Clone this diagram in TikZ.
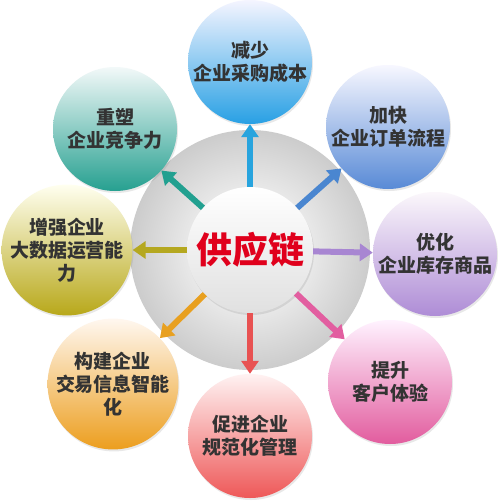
\documentclass[tikz,border=0pt]{standalone}
\usepackage{fontspec}
\newfontfamily\cjk{Noto Sans CJK SC}
\usetikzlibrary{arrows.meta,shadows}
\definecolor{txt}{HTML}{333333}
\definecolor{hubred}{HTML}{E0001C}
\pgfdeclareradialshading{ringshade}{\pgfpoint{0bp}{0bp}}{%
  color(0bp)=(white!94!black);
  color(12bp)=(white!92!black);
  color(25bp)=(white!80!black);
  color(50bp)=(white!75!black)}
\tikzset{
  bubble/.style={circle, minimum size=124pt, inner sep=0pt, align=center,
    font=\cjk\bfseries\fontsize{19}{23}\selectfont, text=txt,
    drop shadow={opacity=0.18, shadow xshift=1pt, shadow yshift=-2pt}},
  arr/.style={line width=6pt, -{Triangle[width=17pt,length=13pt]}},
}
\begin{document}
\begin{tikzpicture}[x=1pt,y=-1pt]
\useasboundingbox (0,0) rectangle (500,501);
\fill[white] (0,0) rectangle (500,501);
% big ring
\shade[shading=ringshade] (250,250) circle (120);
% outer bubbles
\node[bubble, top color=blue!4!white, bottom color={rgb,255:red,40;green,160;blue,228}] (n1) at (250,62) {减少\\企业采购成本};
\node[bubble, top color=blue!3!white, bottom color={rgb,255:red,88;green,138;blue,214}] (n2) at (388,127) {加快\\企业订单流程};
\node[bubble, top color=violet!3!white, bottom color={rgb,255:red,174;green,140;blue,214}] (n3) at (435,254) {优化\\企业库存商品};
\node[bubble, top color=magenta!5!white, bottom color={rgb,255:red,226;green,92;blue,158}] (n4) at (390,382) {提升\\客户体验};
\node[bubble, top color=red!5!white, bottom color={rgb,255:red,238;green,88;blue,88}] (n5) at (250,436) {促进企业\\规范化管理};
\node[bubble, top color=orange!6!white, bottom color={rgb,255:red,236;green,158;blue,30}] (n6) at (113,384) {构建企业\\交易信息智能\\化};
\node[bubble, top color=yellow!6!white, bottom color={rgb,255:red,184;green,168;blue,26}] (n7) at (67,250) {增强企业\\大数据运营能\\力};
\node[bubble, top color=teal!5!white, bottom color={rgb,255:red,38;green,160;blue,144}] (n8) at (115,129) {重塑\\企业竞争力};
% hub
\node[circle, minimum size=126pt, inner sep=0pt, top color=white, bottom color=white!88!black,
  drop shadow={opacity=0.2, shadow xshift=1pt, shadow yshift=-2pt},
  font=\cjk\bfseries\fontsize{36}{40}\selectfont, text=hubred] (c) at (250,250) {供应链};
% arrows
\draw[arr, draw={rgb,255:red,40;green,164;blue,222}] (c) -- (n1);
\draw[arr, draw={rgb,255:red,74;green,134;blue,208}] (c) -- (n2);
\draw[arr, draw={rgb,255:red,168;green,134;blue,210}] (c) -- (n3);
\draw[arr, draw={rgb,255:red,226;green,94;blue,160}] (c) -- (n4);
\draw[arr, draw={rgb,255:red,232;green,82;blue,82}] (c) -- (n5);
\draw[arr, draw={rgb,255:red,232;green,160;blue,32}] (c) -- (n6);
\draw[arr, draw={rgb,255:red,181;green,168;blue,32}] (c) -- (n7);
\draw[arr, draw={rgb,255:red,34;green,160;blue,144}] (c) -- (n8);
\end{tikzpicture}
\end{document}
